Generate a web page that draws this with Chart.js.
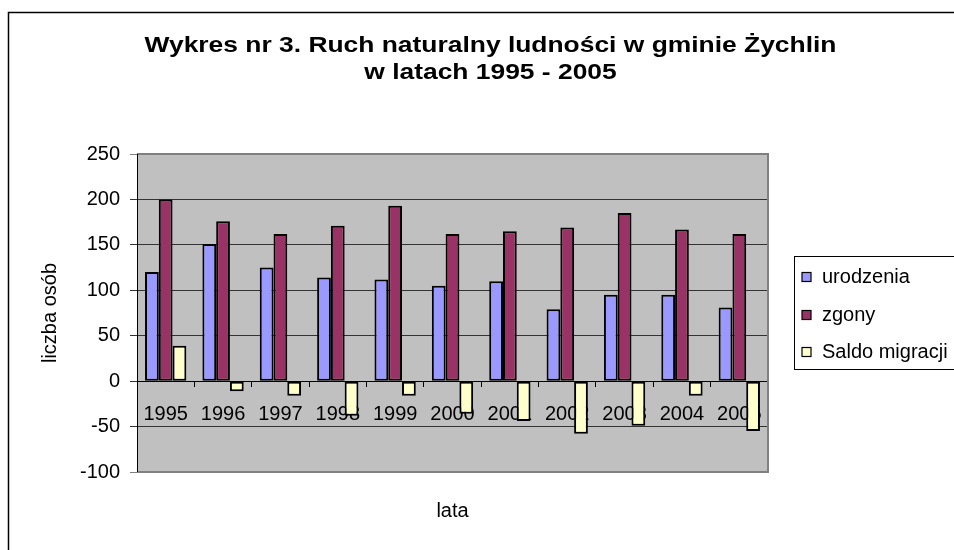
<!DOCTYPE html>
<html>
<head>
<meta charset="utf-8">
<script src="https://cdn.jsdelivr.net/npm/chart.js@4.4.1/dist/chart.umd.min.js"></script>
<style>
  html, body { margin: 0; padding: 0; background: #ffffff; }
  #wrap { width: 954px; height: 550px; position: relative; }
</style>
</head>
<body>
<div id="wrap"><canvas id="c" width="954" height="550"></canvas></div>
<script>
const titleLines = ['Wykres nr 3. Ruch naturalny ludności w gminie Żychlin', 'w latach 1995 - 2005'];
const years = ['1995', '1996', '1997', '1998', '1999', '2000', '2001', '2002', '2003', '2004', '2005'];
const urodzenia = [120, 151, 125, 114, 112, 105, 110, 79, 95, 95, 81];
const zgony = [200, 176, 162, 171, 193, 162, 165, 169, 185, 167, 162];
const saldoMigracji = [39, -11, -16, -38, -16, -36, -44, -58, -49, -16, -55];
const seriesNames = ['urodzenia', 'zgony', 'Saldo migracji'];
const seriesColors = ['#9999FF', '#993366', '#FFFFCC'];
const yTicks = [-100, -50, 0, 50, 100, 150, 200, 250];
const yAxisTitle = 'liczba osób';
const xAxisTitle = 'lata';

const FONT = "'Liberation Sans', Arial, Helvetica, sans-serif";
Chart.defaults.font.family = FONT;
Chart.defaults.color = '#000';

const framePlugin = {
  id: 'frame',
  beforeDraw(chart) {
    const {ctx, chartArea: a} = chart;
    ctx.save();
    ctx.fillStyle = '#fff';
    ctx.fillRect(0, 0, chart.width, chart.height);
    ctx.strokeStyle = '#000';
    ctx.lineWidth = 1.5;
    ctx.strokeRect(8.5, 12.5, 1000, 600);
    ctx.fillStyle = '#C0C0C0';
    ctx.fillRect(a.left, a.top, a.right - a.left, a.bottom - a.top);
    ctx.restore();
  },
  beforeDatasetsDraw(chart) {
    const {ctx, chartArea: a} = chart;
    ctx.save();
    ctx.strokeStyle = '#808080';
    ctx.lineWidth = 2;
    ctx.beginPath();
    ctx.moveTo(a.left, a.top);
    ctx.lineTo(a.right, a.top);
    ctx.lineTo(a.right, a.bottom);
    ctx.lineTo(a.left, a.bottom);
    ctx.stroke();
    ctx.strokeStyle = '#000';
    ctx.lineWidth = 1;
    ctx.beginPath();
    ctx.moveTo(a.left + 0.5, a.top);
    ctx.lineTo(a.left + 0.5, a.bottom);
    ctx.stroke();
    ctx.restore();
  },
  afterDraw(chart) {
    const {ctx} = chart;
    const cx = 490.5, sx = 1.2;
    ctx.save();
    ctx.fillStyle = '#000';
    ctx.font = 'bold 22px ' + FONT;
    ctx.textAlign = 'center';
    ctx.textBaseline = 'alphabetic';
    ctx.translate(cx, 0);
    ctx.scale(sx, 1);
    ctx.fillText(titleLines[0], 0, 52);
    ctx.fillText(titleLines[1], 0, 79);
    ctx.restore();
  }
};

const legendPlugin = {
  id: 'boxLegend',
  afterDraw(chart) {
    const {ctx} = chart;
    const ds = chart.data.datasets;
    const left = 794, top = 256, bottom = 369;
    ctx.save();
    ctx.fillStyle = '#fff';
    ctx.fillRect(left, top, 300, bottom - top);
    ctx.strokeStyle = '#000';
    ctx.lineWidth = 1;
    ctx.strokeRect(left + 0.5, top + 0.5, 300, bottom - top);
    ctx.font = '20px ' + FONT;
    ctx.textBaseline = 'middle';
    ctx.textAlign = 'left';
    const rows = [277, 315, 352];
    ds.forEach((d, i) => {
      const y = rows[i];
      ctx.fillStyle = d.backgroundColor;
      ctx.fillRect(802, y - 4.5, 9, 9);
      ctx.strokeStyle = '#000';
      ctx.lineWidth = 1.2;
      ctx.strokeRect(802, y - 4.5, 9, 9);
      ctx.fillStyle = '#000';
      ctx.fillText(d.label, 822, y);
    });
    ctx.restore();
  }
};

const mkDs = (i, data) => ({
  label: seriesNames[i],
  data: data,
  backgroundColor: seriesColors[i],
  borderColor: '#000',
  borderWidth: 2,
  borderSkipped: false,
  xAxisID: 'x',
  yAxisID: 'y'
});

new Chart(document.getElementById('c'), {
  type: 'bar',
  data: {
    labels: years,
    datasets: [mkDs(0, urodzenia), mkDs(1, zgony), mkDs(2, saldoMigracji)]
  },
  options: {
    responsive: false,
    animation: false,
    devicePixelRatio: 1,
    layout: { padding: { left: 26, right: 0, top: 154, bottom: 0 } },
    datasets: { bar: { categoryPercentage: 0.72, barPercentage: 1.0 } },
    plugins: {
      legend: { display: false },
      tooltip: { enabled: false },
      title: { display: false }
    },
    scales: {
      x: {
        type: 'category',
        position: { y: 0 },
        offset: true,
        grid: { display: true, drawOnChartArea: false, drawTicks: true, tickLength: 5, offset: true, color: '#000', lineWidth: 1 },
        border: { display: true, color: '#000', width: 1 },
        ticks: { font: { size: 20 }, color: '#000', padding: 16, maxRotation: 0, autoSkip: false }
      },
      x2: {
        type: 'category',
        position: 'bottom',
        labels: years,
        grid: { display: false, drawTicks: false },
        border: { display: false },
        ticks: { display: false },
        title: { display: true, text: xAxisTitle, color: '#000', font: { size: 20 }, padding: { top: 0, bottom: 27 } },
        afterFit(s) { s.height = 78; }
      },
      y: {
        type: 'linear',
        position: 'left',
        min: -100,
        max: 250,
        afterBuildTicks(s) { s.ticks = yTicks.map(v => ({ value: v })); },
        grid: {
          color: (c) => (c.tick && (c.tick.value === 250 || c.tick.value === -100)) ? '#808080' : '#333',
          lineWidth: 1,
          tickLength: 7,
          drawTicks: true
        },
        border: { display: true, color: '#000', width: 1 },
        ticks: { font: { size: 20 }, color: '#000', padding: 10 },
        title: { display: true, text: yAxisTitle, color: '#000', font: { size: 20 }, padding: { top: 12, bottom: 0 } },
        afterFit(s) { s.width = 111; }
      },
      yR: {
        type: 'linear',
        position: 'right',
        display: true,
        grid: { display: false, drawTicks: false },
        border: { display: false },
        ticks: { display: false },
        afterFit(s) { s.width = 186; }
      }
    }
  },
  plugins: [framePlugin, legendPlugin]
});
</script>
</body>
</html>
